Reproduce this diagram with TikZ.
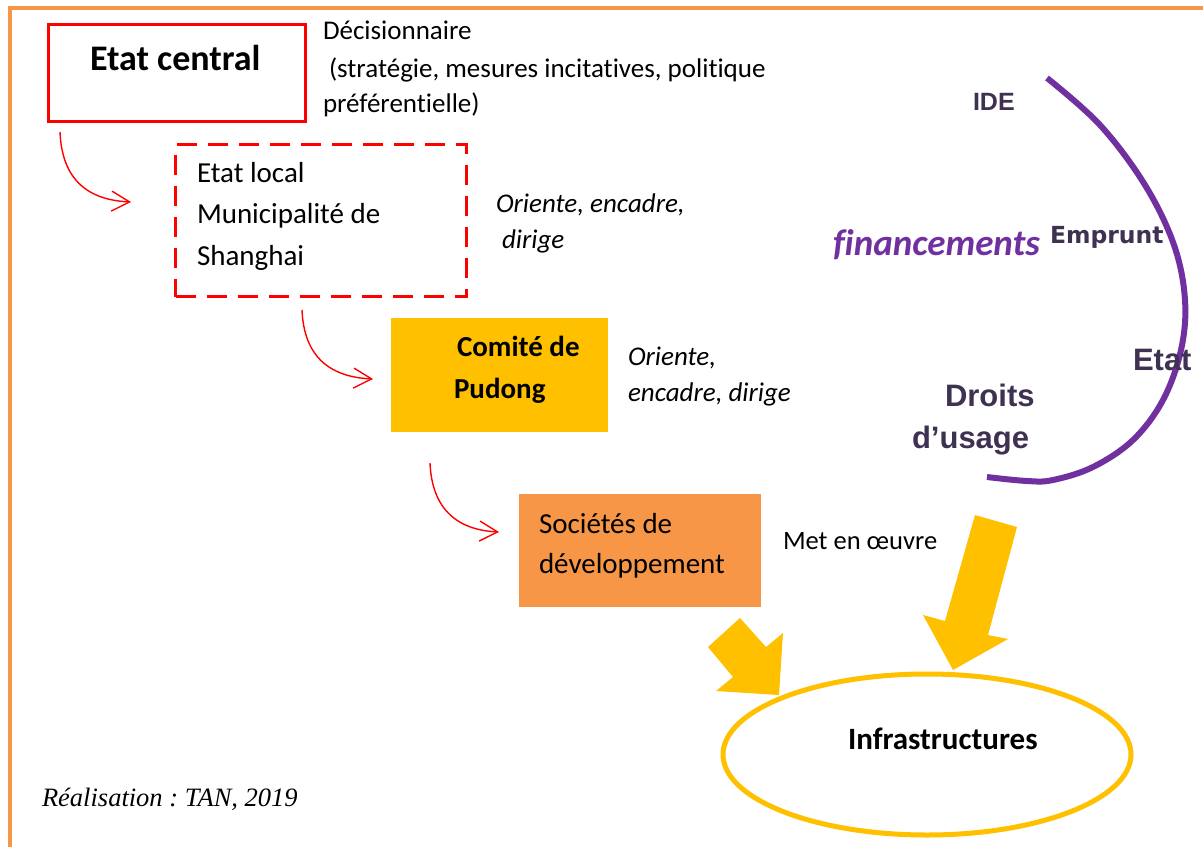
\documentclass[tikz,border=0pt]{standalone}
\usepackage{fontspec}
\setmainfont{Carlito}[Ligatures=NoCommon]
\newfontfamily\arialf{Liberation Sans}
\newfontfamily\dejaf{DejaVu Sans}
\newfontfamily\seriff{Liberation Serif}
\usetikzlibrary{arrows.meta,shapes.geometric}
\frenchspacing
\definecolor{borange}{HTML}{F79646}
\definecolor{byellow}{HTML}{FFC000}
\definecolor{bpurple}{HTML}{7030A0}
\definecolor{dpurple}{HTML}{3F3151}
\definecolor{bred}{HTML}{FF0000}
\tikzset{
  txt/.style={anchor=base west, inner sep=0pt, outer sep=0pt},
  fs/.style={font=\fontsize{#1}{#1}\selectfont},
  boxnode/.style={rectangle, inner sep=0pt, outer sep=0pt},
  redarrow/.style={draw=bred, line width=1.4pt, -{Straight Barb[length=18pt, width=20pt, line width=1.4pt]}},
  yelarrow/.style={fill=byellow, draw=none},
}
\begin{document}
\begin{tikzpicture}[x=1pt,y=-1pt]
\useasboundingbox (0,0) rectangle (1203,847);
\fill[white] (0,0) rectangle (1203,847);
% frame
\draw[borange, line width=4pt] (10,847) -- (10,8) -- (1203,8);

% boxes
\node[boxnode, draw=bred, line width=3.5pt, minimum width=257pt, minimum height=97pt] (ec) at (177,73) {};
\node[boxnode, draw=bred, line width=3.5pt, dash pattern=on 20pt off 11pt, minimum width=291pt, minimum height=152pt] (el) at (321,220.5) {};
\node[boxnode, fill=byellow, minimum width=217pt, minimum height=114pt] (cp) at (499.5,375) {};
\node[boxnode, fill=borange, minimum width=242pt, minimum height=113pt] (sd) at (640,550.5) {};
\node[ellipse, draw=byellow, line width=5pt, inner sep=0pt, minimum width=408pt, minimum height=161pt] (infra) at (927,754.5) {};

% texts
\node[txt, font=\fontsize{36}{36}\selectfont\bfseries] (tec) at (90,70) {Etat central};
\node[txt, fs=27] (td1) at (323,39) {Décisionnaire};
\node[txt, fs=27] (td2) at (329,77) {(stratégie, mesures incitatives, politique};
\node[txt, fs=27] (td3) at (323,112) {préférentielle)};

\node[txt, fs=29] (tel1) at (197,182) {Etat local};
\node[txt, fs=29] (tel2) at (197,223) {Municipalité de};
\node[txt, fs=29] (tel3) at (197,265) {Shanghai};
\node[txt, font=\fontsize{27}{27}\selectfont\itshape] (to1) at (496,212) {Oriente, encadre,};
\node[txt, font=\fontsize{27}{27}\selectfont\itshape] (to2) at (502,248) {dirige};

\node[txt, font=\fontsize{29}{29}\selectfont\bfseries] (tcp1) at (457,356) {Comité de};
\node[txt, font=\fontsize{29}{29}\selectfont\bfseries] (tcp2) at (454,398) {Pudong};
\node[txt, font=\fontsize{27}{27}\selectfont\itshape] (to3) at (628,365) {Oriente,};
\node[txt, font=\fontsize{27}{27}\selectfont\itshape] (to4) at (628,401) {encadre, dirige};

\node[txt, fs=29] (tsd1) at (539,533) {Sociétés de};
\node[txt, fs=29] (tsd2) at (539,573) {développement};
\node[txt, fs=26.5] (tmo) at (783,549) {Met en œuvre};

\node[txt, font=\fontsize{31}{31}\selectfont\bfseries] (tinf) at (848,749) {Infrastructures};
\node[txt, font=\fontsize{26.5}{26.5}\selectfont\seriff\itshape] (treal) at (42,806) {Réalisation : TAN, 2019};

% red arrows
\coordinate (a1s) at (60,132);
\coordinate (a1e) at (131,202);
\coordinate (a2s) at (302,310);
\coordinate (a2e) at (373,379);
\coordinate (a3s) at (430,463);
\coordinate (a3e) at (499,532);
\draw[redarrow] (a1s) .. controls (62,180) and (88,200) .. (a1e);
\draw[redarrow] (a2s) .. controls (304,357) and (330,377) .. (a2e);
\draw[redarrow] (a3s) .. controls (432,510) and (458,530) .. (a3e);

% yellow block arrows
\fill[yelarrow] (708,647) -- (740,618) -- (766,647) -- (783,633) -- (779,695) -- (716,691) -- (733,677) -- cycle;
\fill[yelarrow] (975,515) -- (1017,527) -- (988,635) -- (1008,639) -- (953,670) -- (923,615) -- (945,621) -- cycle;

% purple arc
\draw[bpurple, line width=6pt] plot[smooth, tension=0.6] coordinates {(1047,78) (1100,125) (1145,185) (1174,245) (1185,300) (1181,350) (1163,400) (1133,440) (1093,467) (1053,480) (1027,481) (987,477)};

% financing texts
\node[txt, text=dpurple, font=\fontsize{25}{25}\selectfont\arialf\bfseries] (tide) at (973,110) {IDE};
\node[txt, text=bpurple, font=\fontsize{37}{37}\selectfont\bfseries\itshape] (tfin) at (833,255) {financements};
\node[txt, text=dpurple, font=\fontsize{23.5}{23.5}\selectfont\dejaf\bfseries] (temp) at (1050,243) {Emprunt};
\node[txt, text=dpurple, font=\fontsize{31}{31}\selectfont\arialf\bfseries] (tetat) at (1133,370) {Etat};
\node[txt, text=dpurple, font=\fontsize{31}{31}\selectfont\arialf\bfseries] (tdr1) at (945,406) {Droits};
\node[txt, text=dpurple, font=\fontsize{31}{31}\selectfont\arialf\bfseries] (tdr2) at (912,448) {d’usage};
\end{tikzpicture}
\end{document}
